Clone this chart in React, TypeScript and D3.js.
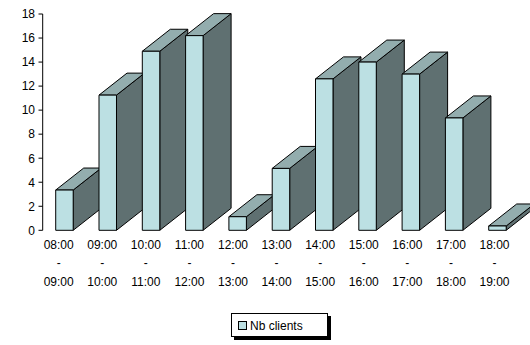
import React from "react";
import * as d3 from "d3";

// Hourly slots and average number of clients per slot
const hourStarts = ["08:00", "09:00", "10:00", "11:00", "12:00", "13:00", "14:00", "15:00", "16:00", "17:00", "18:00"];
const hourEnds = ["09:00", "10:00", "11:00", "12:00", "13:00", "14:00", "15:00", "16:00", "17:00", "18:00", "19:00"];
const clients = [3.35, 11.25, 14.9, 16.2, 1.13, 5.15, 12.6, 14.0, 13.0, 9.35, 0.36];
const yTicks = [0, 2, 4, 6, 8, 10, 12, 14, 16, 18];
const seriesName = "Nb clients";

const W = 530;
const H = 345;
const FONT = "'Liberation Sans', Arial, sans-serif";

const FRONT = "#bce0e3";
const TOP = "#93adae";
const SIDE = "#5f7071";

// oblique depth of each column
const DX = 28;
const DY = -22;

export default function App() {
  const y = d3.scaleLinear().domain([0, 18]).range([230.3, 14]);
  const x = d3
    .scaleBand<string>()
    .domain(hourStarts)
    .range([42.8, 519.1])
    .paddingInner(0.596)
    .paddingOuter(0.298);
  const labelX = d3.scalePoint<string>().domain(hourStarts).range([58.7, 494.5]);

  const bw = x.bandwidth();
  const y0 = y(0);

  return (
    <svg
      width={W}
      height={H}
      style={{ position: "absolute", left: 0, top: 0, background: "#fff" }}
      fontFamily={FONT}
    >
      {/* value axis */}
      <line x1={42.7} x2={42.7} y1={y(18)} y2={y0} stroke="#000" strokeWidth={1} />
      {yTicks.map((t) => (
        <g key={t}>
          <line x1={38.5} x2={42.7} y1={y(t)} y2={y(t)} stroke="#000" strokeWidth={1} />
          <text x={35} y={y(t)} dy="0.36em" textAnchor="end" fontSize={12} fill="#000">
            {t}
          </text>
        </g>
      ))}

      {/* columns, left to right so nearer faces overlap */}
      {hourStarts.map((h, i) => {
        const x0 = x(h)!;
        const x1 = x0 + bw;
        const yt = y(clients[i]);
        const side = `M${x1},${y0} L${x1 + DX},${y0 + DY} L${x1 + DX},${yt + DY} L${x1},${yt} Z`;
        const top = `M${x0},${yt} L${x0 + DX},${yt + DY} L${x1 + DX},${yt + DY} L${x1},${yt} Z`;
        return (
          <g key={h} stroke="#000" strokeWidth={1} strokeLinejoin="round">
            <path d={side} fill={SIDE} />
            <path d={top} fill={TOP} />
            <rect x={x0} y={yt} width={bw} height={y0 - yt} fill={FRONT} />
          </g>
        );
      })}

      {/* category labels */}
      {hourStarts.map((h, i) => (
        <text key={h} x={labelX(h)} textAnchor="middle" fontSize={12} fill="#000">
          <tspan x={labelX(h)} y={249}>
            {h}
          </tspan>
          <tspan x={labelX(h)} y={267}>
            -
          </tspan>
          <tspan x={labelX(h)} y={286}>
            {hourEnds[i]}
          </tspan>
        </text>
      ))}

      {/* legend */}
      <g>
        <rect x={234} y={316} width={97} height={24} fill="#000" />
        <rect x={231.5} y={313.5} width={96} height={23} fill="#fff" stroke="#000" strokeWidth={1} />
        <rect x={238.5} y={321.5} width={8} height={8} fill={FRONT} stroke="#000" strokeWidth={1} />
        <text x={250} y={330} fontSize={12} fill="#000">
          {seriesName}
        </text>
      </g>
    </svg>
  );
}
